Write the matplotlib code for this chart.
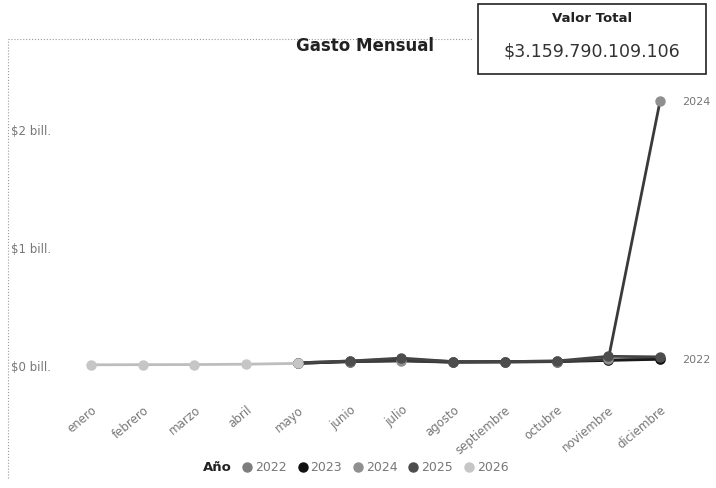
import numpy as np
import matplotlib.pyplot as plt
from matplotlib.patches import Rectangle

plt.rcParams['font.family'] = ['DejaVu Sans']

meses = ['enero', 'febrero', 'marzo', 'abril', 'mayo', 'junio', 'julio',
         'agosto', 'septiembre', 'octubre', 'noviembre', 'diciembre']
anios = ['2022', '2023', '2024', '2025', '2026']
nan = np.nan
# gasto en billones
g2022 = [nan, nan, nan, nan, 0.020, 0.035, 0.050, 0.030, 0.030, 0.035, 0.045, 0.055]
g2023 = [nan, nan, nan, nan, 0.015, 0.030, 0.040, 0.025, 0.030, 0.030, 0.040, 0.050]
g2024 = [nan, nan, nan, nan, 0.015, 0.030, 0.035, 0.025, 0.025, 0.030, 0.050, 2.240]
g2025 = [nan, nan, nan, nan, 0.020, 0.035, 0.060, 0.030, 0.030, 0.035, 0.075, 0.070]
g2026 = [0.003, 0.004, 0.005, 0.008, 0.015, nan, nan, nan, nan, nan, nan, nan]
series = [g2022, g2023, g2024, g2025, g2026]
colores = ['#7d7d7d', '#111111', '#8f8f8f', '#4d4d4d', '#c6c6c6']
lineas = ['#6a6a6a', '#1a1a1a', '#3a3a3a', '#444444', '#bdbdbd']
valor_total = '$3.159.790.109.106'
y_ticks = [0, 1, 2]
y_labels = ['$0 bill.', '$1 bill.', '$2 bill.']
etiquetas_fin = {'2024': 2, '2022': 0}

fig = plt.figure(figsize=(7.16, 4.89), dpi=100)
ax = fig.add_axes([0.091, 0.203, 0.867, 0.627])
x = np.arange(len(meses))
for anio, vals, c, lc in zip(anios, series, colores, lineas):
    ax.plot(x, vals, color=lc, lw=2, marker='o', ms=6.5,
            mfc=c, mec=c, zorder=3)

for anio, idx in etiquetas_fin.items():
    ax.text(len(meses) - 1 + 0.42, series[idx][-1], anio, color='#777777',
            fontsize=8, va='center', ha='left', clip_on=False)

ax.set_xlim(-0.5, 11.5)
ax.set_ylim(-0.2, 2.4)
ax.set_xticks(x)
ax.set_xticklabels(meses, rotation=40, ha='right', rotation_mode='anchor',
                   fontsize=8.5, color='#777777')
ax.set_yticks(y_ticks)
ax.set_yticklabels(y_labels, fontsize=8.5, color='#777777')
ax.tick_params(length=0, pad=10)
for s in ax.spines.values():
    s.set_visible(False)

# borde punteado del panel
fig.add_artist(plt.Line2D([0.011, 0.66], [0.918, 0.918], color='#999999',
                          lw=0.8, ls=':'))
fig.add_artist(plt.Line2D([0.011, 0.011], [0.02, 0.918], color='#999999',
                          lw=0.8, ls=':'))

fig.text(0.51, 0.905, 'Gasto Mensual', fontsize=12, fontweight='bold',
         ha='center', va='center', color='#222222')

# tarjeta de valor total
fig.add_artist(Rectangle((0.668, 0.847), 0.318, 0.142, transform=fig.transFigure,
                         fill=False, ec='#222222', lw=1.2))
fig.text(0.827, 0.962, 'Valor Total', fontsize=9.5, fontweight='bold',
         ha='center', va='center', color='#222222')
fig.text(0.827, 0.895, valor_total, fontsize=12.5, ha='center', va='center',
         color='#333333')

# leyenda
ly = 0.043
fig.text(0.284, ly, 'Año', fontsize=9.5, fontweight='bold', ha='left',
         va='center', color='#222222')
lx = 0.345
for anio, c in zip(anios, colores):
    fig.add_artist(plt.Line2D([lx], [ly], marker='o', ms=6.5, mfc=c, mec=c,
                              transform=fig.transFigure))
    fig.text(lx + 0.011, ly, anio, fontsize=9, ha='left', va='center',
             color='#777777')
    lx += 0.0775

fig.savefig('out.png', dpi=100)
